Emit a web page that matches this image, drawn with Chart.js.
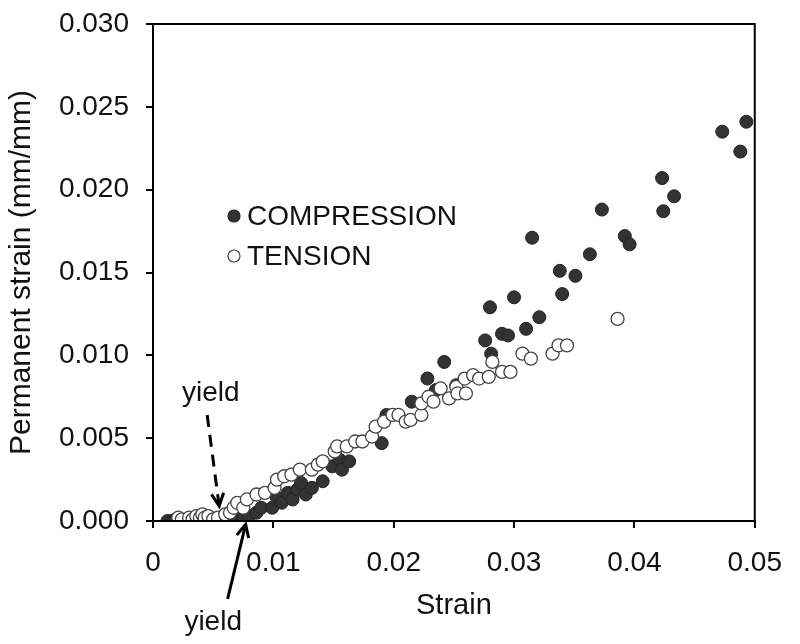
<!DOCTYPE html>
<html>
<head>
<meta charset="utf-8">
<title>Permanent strain vs strain</title>
<script src="https://cdn.jsdelivr.net/npm/chart.js@4.4.1/dist/chart.umd.min.js"></script>
<style>
  html, body { margin: 0; padding: 0; background: #fff; }
  #wrap { width: 800px; height: 644px; }
</style>
</head>
<body>
<div id="wrap"><canvas id="myChart" width="800" height="644"></canvas></div>
<script>
// strain values (x) and permanent strain (y)
const compressionX = [0.0012, 0.0016, 0.0019, 0.0058, 0.0061, 0.0066, 0.0070, 0.0075, 0.0080, 0.0086,
  0.0090, 0.0099, 0.0103, 0.0107, 0.0112, 0.0116, 0.0120, 0.0123, 0.0127, 0.0132, 0.0141, 0.0149,
  0.0155, 0.0157, 0.0163, 0.0190, 0.0194, 0.0215, 0.0228, 0.0235, 0.0242, 0.0252, 0.0276, 0.0280,
  0.0281, 0.0290, 0.0295, 0.0300, 0.0310, 0.0315, 0.0321, 0.0338, 0.0340, 0.0351, 0.0363, 0.0373,
  0.0392, 0.0396, 0.0423, 0.0424, 0.0433, 0.0473, 0.0488, 0.0493];
const compressionY = [0.0000, 0.0000, 0.0001, 0.0001, 0.0000, 0.0001, 0.0002, 0.0003, 0.0003, 0.0005,
  0.0008, 0.0008, 0.0014, 0.0011, 0.0017, 0.0013, 0.0019, 0.0023, 0.0016, 0.0020, 0.0024, 0.0033,
  0.0037, 0.0031, 0.0036, 0.0047, 0.0064, 0.0072, 0.0086, 0.0079, 0.0096, 0.0082, 0.0109, 0.0129,
  0.0101, 0.0113, 0.0112, 0.0135, 0.0116, 0.0171, 0.0123, 0.0151, 0.0137, 0.0148, 0.0161, 0.0188,
  0.0172, 0.0167, 0.0207, 0.0187, 0.0196, 0.0235, 0.0223, 0.0241];

const tensionX = [0.0021, 0.0024, 0.0030, 0.0033, 0.0036, 0.0039, 0.0041, 0.0043, 0.0046, 0.0050,
  0.0054, 0.0060, 0.0064, 0.0067, 0.0070, 0.0075, 0.0078, 0.0086, 0.0093, 0.0101, 0.0103, 0.0109,
  0.0115, 0.0122, 0.0132, 0.0137, 0.0141, 0.0151, 0.0153, 0.0161, 0.0168, 0.0174, 0.0182, 0.0185,
  0.0192, 0.0199, 0.0204, 0.0210, 0.0214, 0.0223, 0.0223, 0.0229, 0.0233, 0.0239, 0.0246, 0.0252,
  0.0253, 0.0259, 0.0260, 0.0266, 0.0271, 0.0279, 0.0282, 0.0290, 0.0297, 0.0307, 0.0314, 0.0332,
  0.0337, 0.0344, 0.0386];
const tensionY = [0.0002, 0.0001, 0.0002, 0.0001, 0.0003, 0.0002, 0.0004, 0.0002, 0.0003, 0.0001,
  0.0002, 0.0004, 0.0005, 0.0008, 0.0011, 0.0008, 0.0013, 0.0016, 0.0017, 0.0020, 0.0025, 0.0027,
  0.0028, 0.0031, 0.0031, 0.0034, 0.0036, 0.0042, 0.0045, 0.0045, 0.0048, 0.0048, 0.0051, 0.0057,
  0.0060, 0.0064, 0.0064, 0.0060, 0.0061, 0.0064, 0.0071, 0.0075, 0.0072, 0.0080, 0.0074, 0.0081,
  0.0077, 0.0086, 0.0077, 0.0088, 0.0086, 0.0087, 0.0096, 0.0090, 0.0090, 0.0101, 0.0098, 0.0101,
  0.0106, 0.0106, 0.0122];

const seriesNames = ['COMPRESSION', 'TENSION'];
const xTicks = [0, 0.01, 0.02, 0.03, 0.04, 0.05];
const yTicks = [0, 0.005, 0.010, 0.015, 0.020, 0.025, 0.030];

// "yield" arrows, in data units
const yieldArrows = [
  { from: [0.0045, 0.0064], to: [0.0055, 0.0009], dashed: true, text: [0.0048, 0.0077] },
  { from: [0.0062, -0.0047], to: [0.0077, -0.0002], dashed: false, text: [0.0050, -0.0061] },
];

const FONT = '"Liberation Sans", Arial, Helvetica, sans-serif';
const toPoints = (xs, ys) => xs.map((x, i) => ({ x: x, y: ys[i] }));

const frame = {
  id: 'frame',
  afterDraw(chart) {
    const { ctx, chartArea: a, scales } = chart;
    ctx.save();
    ctx.strokeStyle = '#000';
    ctx.lineWidth = 2;
    ctx.strokeRect(a.left, a.top, a.right - a.left, a.bottom - a.top);

    // legend inside the plot
    ctx.font = '28px ' + FONT;
    ctx.textBaseline = 'middle';
    ctx.textAlign = 'left';
    const lx = a.left + 81, ly = a.top + 192;
    ctx.lineWidth = 1.2;
    ctx.beginPath();
    ctx.arc(lx, ly, 6, 0, Math.PI * 2);
    ctx.fillStyle = '#333';
    ctx.fill();
    ctx.strokeStyle = '#222';
    ctx.stroke();
    ctx.beginPath();
    ctx.arc(lx, ly + 40, 6, 0, Math.PI * 2);
    ctx.fillStyle = '#fff';
    ctx.fill();
    ctx.strokeStyle = '#444';
    ctx.stroke();
    ctx.fillStyle = '#111';
    ctx.fillText(seriesNames[0], lx + 13, ly + 1);
    ctx.fillText(seriesNames[1], lx + 13, ly + 41);

    // yield arrows
    const X = scales.x, Y = scales.y;
    ctx.strokeStyle = '#000';
    ctx.fillStyle = '#111';
    ctx.font = '28px ' + FONT;
    ctx.textAlign = 'center';
    yieldArrows.forEach(ar => {
      const x1 = X.getPixelForValue(ar.from[0]), y1 = Y.getPixelForValue(ar.from[1]);
      const x2 = X.getPixelForValue(ar.to[0]), y2 = Y.getPixelForValue(ar.to[1]);
      ctx.lineWidth = 3;
      ctx.setLineDash(ar.dashed ? [12, 8] : []);
      ctx.beginPath();
      ctx.moveTo(x1, y1);
      ctx.lineTo(x2, y2);
      ctx.stroke();
      ctx.setLineDash([]);
      const ang = Math.atan2(y2 - y1, x2 - x1);
      const len = 14, spread = 0.45;
      ctx.beginPath();
      ctx.moveTo(x2 - len * Math.cos(ang - spread), y2 - len * Math.sin(ang - spread));
      ctx.lineTo(x2, y2);
      ctx.lineTo(x2 - len * Math.cos(ang + spread), y2 - len * Math.sin(ang + spread));
      ctx.stroke();
      ctx.fillText('yield', X.getPixelForValue(ar.text[0]), Y.getPixelForValue(ar.text[1]));
    });
    ctx.restore();
  }
};

const ctx = document.getElementById('myChart').getContext('2d');
new Chart(ctx, {
  type: 'scatter',
  data: {
    datasets: [
      {
        label: seriesNames[0],
        data: toPoints(compressionX, compressionY),
        backgroundColor: '#333333',
        borderColor: '#222222',
        borderWidth: 1,
        pointRadius: 6.5,
        order: 2,
      },
      {
        label: seriesNames[1],
        data: toPoints(tensionX, tensionY),
        backgroundColor: '#ffffff',
        borderColor: '#444444',
        borderWidth: 1.3,
        pointRadius: 6.5,
        order: 1,
      },
    ],
  },
  options: {
    responsive: false,
    animation: false,
    events: [],
    layout: { padding: { top: 24, right: 41, bottom: 0, left: 0 } },
    plugins: {
      legend: { display: false },
      tooltip: { enabled: false },
    },
    scales: {
      x: {
        type: 'linear',
        min: 0,
        max: 0.05,
        afterBuildTicks: s => { s.ticks = xTicks.map(v => ({ value: v })); },
        afterFit: s => { s.height = 123; },
        ticks: {
          padding: 18,
          color: '#111',
          font: { family: FONT, size: 28 },
          callback: v => (v === 0 ? '0' : v.toFixed(2)),
        },
        grid: { drawOnChartArea: false, drawTicks: true, tickLength: 7, color: '#000', lineWidth: 2 },
        border: { display: true, color: '#000', width: 2 },
        title: {
          display: true,
          text: 'Strain',
          color: '#111',
          font: { family: FONT, size: 29 },
          padding: { top: 0, bottom: 21 },
        },
      },
      y: {
        type: 'linear',
        min: 0,
        max: 0.03,
        afterBuildTicks: s => { s.ticks = yTicks.map(v => ({ value: v })); },
        afterFit: s => { s.width = 153; s.paddingTop = 0; s.paddingBottom = 0; },
        ticks: {
          padding: 17,
          color: '#111',
          font: { family: FONT, size: 28 },
          callback: v => v.toFixed(3),
        },
        grid: { drawOnChartArea: false, drawTicks: true, tickLength: 7, color: '#000', lineWidth: 2 },
        border: { display: true, color: '#000', width: 2 },
        title: {
          display: true,
          text: 'Permanent strain (mm/mm)',
          color: '#111',
          font: { family: FONT, size: 30 },
          padding: { top: 4, bottom: 0 },
        },
      },
    },
  },
  plugins: [frame],
});
</script>
</body>
</html>
